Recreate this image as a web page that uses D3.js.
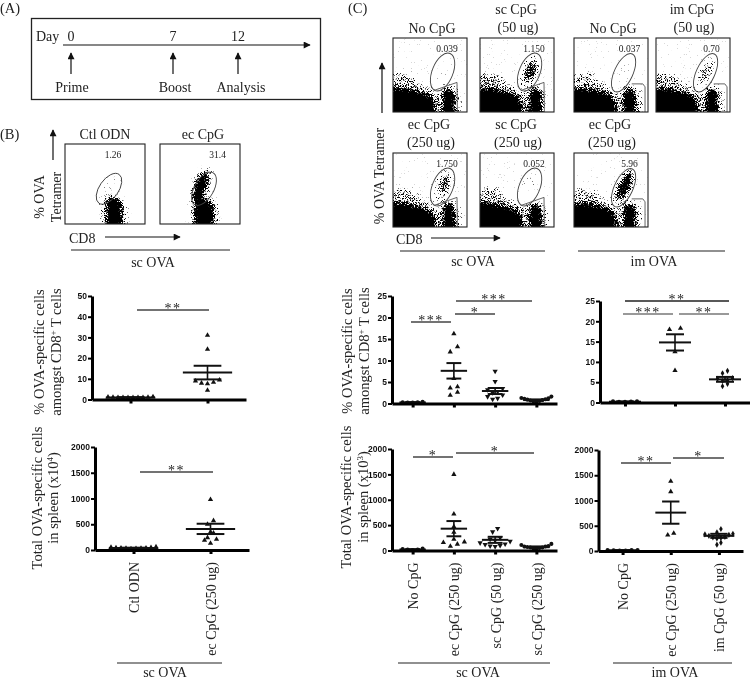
<!DOCTYPE html>
<html lang="en">
<head>
<meta charset="UTF-8">
<title>OVA-specific CD8 T cells after CpG priming</title>
<style>
  body { margin: 0; background: #fff; }
  svg { display: block; filter: blur(0.3px); }
  text { font-family: "Liberation Serif", serif; fill: #222; }
  .tick text { font-family: "Liberation Sans", sans-serif; font-weight: bold; font-size: 8.5px; fill: #111; }
  .cat .tick text { font-family: "Liberation Serif", serif; font-weight: normal; font-size: 14px; fill: #222; }
</style>
</head>
<body>
<script src="https://d3js.org/d3.v7.min.js"></script>
<script>
// categories
const catsB = ["Ctl ODN", "ec CpG (250 ug)"];
const catsSc = ["No CpG", "ec CpG (250 ug)", "sc CpG (50 ug)", "sc CpG (250 ug)"];
const catsIm = ["No CpG", "ec CpG (250 ug)", "im CpG (50 ug)"];

// (B) % of CD8 T cells
const bPctCtl = [0.9, 1.0, 1.1, 1.0, 1.0, 0.9, 1.0, 1.2, 1.1, 1.3];
const bPctEc = [4.5, 7.6, 7.9, 8.3, 8.9, 9.4, 24.3, 31];
const bPctMean = [1.0, 13];
const bPctSem = [0.1, 3.3];

// (B) total cells
const bTotCtl = [25, 30, 35, 35, 40, 40, 45, 50, 55, 60];
const bTotEc = [130, 190, 210, 240, 330, 350, 500, 570, 980];
const bTotMean = [40, 410];
const bTotSem = [5, 100];

// (C) sc OVA, % of CD8 T cells
const cPctNo = [0.2, 0.2, 0.3, 0.3, 0.4];
const cPctEc = [1.9, 2.6, 3.6, 3.9, 5.8, 12, 13.2, 16.2];
const cPctSc50 = [1.0, 1.2, 1.6, 2.0, 2.5, 2.8, 3.2, 3.5, 5.1, 7.5];
const cPctSc250 = [0.4, 0.5, 0.6, 0.7, 0.8, 0.9, 1.0, 1.1, 1.2, 1.3, 1.6];
const cPctMean = [0.25, 7.6, 2.9, 0.8];
const cPctSem = [0.05, 1.8, 0.7, 0.15];

// (C) sc OVA, total cells
const cTotNo = [10, 20, 20, 30, 40];
const cTotEc = [85, 125, 157, 170, 220, 360, 470, 720, 1500];
const cTotSc50 = [80, 90, 100, 120, 130, 150, 180, 200, 220, 250, 367, 433];
const cTotSc250 = [30, 40, 50, 60, 60, 70, 80, 80, 90, 110, 130];
const cTotMean = [20, 430, 210, 65];
const cTotSem = [5, 150, 60, 15];

// (C) im OVA, % of CD8 T cells
const iPctNo = [0.2, 0.2, 0.25, 0.3, 0.3];
const iPctEc = [7.9, 12.5, 18, 18.3];
const iPctIm50 = [4, 4.6, 5.3, 5.5, 5.8, 6, 7.2, 7.8];
const iPctMean = [0.2, 14.8, 5.7];
const iPctSem = [0.03, 2.0, 0.6];

// (C) im OVA, total cells
const iTotNo = [10, 10, 15, 20, 20, 20];
const iTotEc = [317, 350, 1175, 1380];
const iTotIm50 = [125, 165, 250, 260, 270, 280, 300, 320, 330, 340, 370, 435];
const iTotMean = [15, 760, 300];
const iTotSem = [3, 220, 40];

// flow plots: density outlines in % of the plot (x right, y up)
const scBulk = [[-15, -15], [-15, 30], [12, 32], [25, 29], [38, 27], [50, 22], [56, 12], [58, -15]];
const scHalo = [[-15, -15], [-15, 48], [10, 52], [22, 52], [32, 42], [45, 33], [60, 25], [64, -15]];
const scCol = [[67, -15], [67, 25], [72, 32], [79, 31], [83, 24], [84, -15]];
const scColHalo = [[58, -15], [60, 20], [66, 34], [80, 36], [90, 28], [93, -15]];
const bCol = [[52, -15], [52, 25], [58, 33], [66, 32], [71, 22], [71, -15]];
const bColHalo = [[42, -15], [44, 24], [52, 38], [68, 38], [77, 24], [78, -15]];
const bColEc = [[43, -15], [43, 25], [50, 32], [60, 31], [66, 22], [67, -15]];
const bColHaloEc = [[36, -15], [38, 26], [50, 38], [66, 34], [74, 20], [75, -15]];
const scBracket = [[55, 29], [86.5, 40], [87, 0]];
const imBracket = [[78, 38], [93, 38], [96, 34], [96, 0]];

const flowB = [
  { title: ["Ctl ODN"], value: "1.26", shapes: [[bCol, 1], [bColHalo, 0.32]], bg: 0,
    blobs: [[55, 44, 10, 20, 35, 0.1]], gate: [55, 44, 12, 22, 35], bracket: null },
  { title: ["ec CpG"], value: "31.4", shapes: [[bColEc, 1], [bColHaloEc, 0.34]], bg: 0,
    blobs: [[52, 48, 11, 23, 25, 0.4], [50, 46, 7, 19, 20, 1]], gate: [55, 44, 12, 23, 30], bracket: null }
];
const flowSc = [
  { title: ["No CpG"], value: "0.039", blobs: [[67, 52, 10, 20, 22, 0.04]] },
  { title: ["sc CpG", "(50 ug)"], value: "1.150", blobs: [[67, 54, 12, 25, 22, 0.26], [69, 55, 6, 14, 22, 0.75]] },
  { title: ["ec CpG", "(250 ug)"], value: "1.750", blobs: [[67, 54, 12, 25, 22, 0.24], [69, 58, 5, 10, 22, 0.75]] },
  { title: ["sc CpG", "(250 ug)"], value: "0.052", blobs: [[67, 56, 9, 16, 22, 0.1]] }
];
const flowIm = [
  { title: ["No CpG"], value: "0.037", blobs: [[67, 53, 10, 22, 25, 0.04]] },
  { title: ["im CpG", "(50 ug)"], value: "0.70", blobs: [[67, 53, 10, 22, 25, 0.2], [68, 54, 4, 11, 25, 0.6]] },
  { title: ["ec CpG", "(250 ug)"], value: "5.96", blobs: [[67, 53, 11, 25, 25, 0.38], [69, 56, 6, 19, 25, 1]] }
];

const svg = d3.select("body").append("svg").attr("width", 750).attr("height", 680);
const defs = svg.append("defs");

defs.append("marker").attr("id", "head")
  .attr("viewBox", "0 0 10 10").attr("refX", 9).attr("refY", 5)
  .attr("markerUnits", "userSpaceOnUse").attr("markerWidth", 8).attr("markerHeight", 7)
  .attr("orient", "auto")
  .append("path").attr("d", "M0,0 L10,5 L0,10 Z").attr("fill", "#111");

// speckle: turns the grey density shapes into dots
const speckle = defs.append("filter").attr("id", "speckle")
  .attr("filterUnits", "userSpaceOnUse")
  .attr("x", 0).attr("y", 0).attr("width", 750).attr("height", 680)
  .attr("color-interpolation-filters", "sRGB");
speckle.append("feGaussianBlur").attr("in", "SourceAlpha").attr("stdDeviation", 2.4).attr("result", "b");
speckle.append("feTurbulence").attr("type", "fractalNoise").attr("baseFrequency", 1.3)
  .attr("numOctaves", 1).attr("seed", 7).attr("result", "n");
speckle.append("feColorMatrix").attr("in", "n")
  .attr("values", "0 0 0 0 0  0 0 0 0 0  0 0 0 0 0  0 0 0 2.6 -0.9").attr("result", "na");
speckle.append("feComposite").attr("in", "b").attr("in2", "na").attr("operator", "arithmetic")
  .attr("k1", 0).attr("k2", 1.3).attr("k3", 1).attr("k4", -1).attr("result", "c");
speckle.append("feComponentTransfer").attr("in", "c")
  .append("feFuncA").attr("type", "linear").attr("slope", 4).attr("intercept", 0);

function txt(x, y, s, size, anchor, g) {
  return (g || svg).append("text").attr("x", x).attr("y", y)
    .attr("font-size", size || 14).attr("text-anchor", anchor || "middle").text(s);
}
function vtxt(x, y, s, size) {
  return svg.append("text").attr("transform", `translate(${x},${y}) rotate(-90)`)
    .attr("font-size", size || 14.5).attr("text-anchor", "middle").text(s);
}
function rule(x1, x2, y, w, c) {
  svg.append("line").attr("x1", x1).attr("x2", x2).attr("y1", y).attr("y2", y)
    .attr("stroke", c || "#222").attr("stroke-width", w || 1.2);
}
function arrow(x1, y1, x2, y2) {
  svg.append("line").attr("x1", x1).attr("y1", y1).attr("x2", x2).attr("y2", y2)
    .attr("stroke", "#111").attr("stroke-width", 1.2).attr("marker-end", "url(#head)");
}

// (A) schedule
txt(0, 13, "(A)", 14.5, "start");
svg.append("rect").attr("x", 31.5).attr("y", 18.5).attr("width", 289).attr("height", 81)
  .attr("fill", "none").attr("stroke", "#222").attr("stroke-width", 1.3);
txt(36, 41, "Day", 14, "start");
arrow(63, 45, 310, 45);
const days = ["0", "7", "12"];
const dayX = [71, 173, 238];
const steps = ["Prime", "Boost", "Analysis"];
const stepX = [72, 175, 241];
days.forEach((d, i) => {
  txt(dayX[i], 41, d, 14);
  arrow(dayX[i], 74, dayX[i], 53);
  txt(stepX[i], 92, steps[i], 14);
});

// flow plots
function flowPlot(p, px, py, size, sc) {
  const x = d3.scaleLinear([0, 100], [px, px + size]);
  const y = d3.scaleLinear([0, 100], [py + size, py]);
  const id = "clip" + px + "_" + py;
  defs.append("clipPath").attr("id", id).append("rect")
    .attr("x", px).attr("y", py).attr("width", size).attr("height", size);
  const dots = svg.append("g").attr("clip-path", `url(#${id})`).append("g").attr("filter", "url(#speckle)");
  const blob = d3.line().x(d => x(d[0])).y(d => y(d[1])).curve(d3.curveLinearClosed);
  dots.append("rect").attr("x", px).attr("y", py).attr("width", size).attr("height", size)
    .attr("fill", "#000").attr("opacity", p.bg === undefined ? 0.03 : p.bg);
  p.shapes.forEach(s => dots.append("path").attr("d", blob(s[0])).attr("fill", "#000").attr("opacity", s[1]));
  const k = size / 100;
  p.blobs.forEach(b => dots.append("ellipse")
    .attr("transform", `translate(${x(b[0])},${y(b[1])}) rotate(${b[4]})`)
    .attr("rx", b[2] * k).attr("ry", b[3] * k).attr("fill", "#000").attr("opacity", b[5]));
  svg.append("ellipse")
    .attr("transform", `translate(${x(p.gate[0])},${y(p.gate[1])}) rotate(${p.gate[4]})`)
    .attr("rx", p.gate[2] * k).attr("ry", p.gate[3] * k)
    .attr("fill", "none").attr("stroke", "#444").attr("stroke-width", 0.9);
  if (p.bracket) {
    svg.append("path").attr("d", d3.line().x(d => x(d[0])).y(d => y(d[1]))(p.bracket))
      .attr("fill", "none").attr("stroke", "#555").attr("stroke-width", 0.9);
  }
  svg.append("rect").attr("x", px).attr("y", py).attr("width", size).attr("height", size)
    .attr("fill", "none").attr("stroke", "#222").attr("stroke-width", 1.1);
  txt(x(p.valueX), py + (sc ? 13.5 : 14), p.value, 9.5);
}

// (B) flow
txt(0, 139, "(B)", 14.5, "start");
const bX = [65, 160];
const bTitleX = [105, 203];
flowB.forEach((p, i) => {
  p.valueX = i ? 72 : 60;
  flowPlot(p, bX[i], 144, 80, false);
  txt(bTitleX[i], 139, p.title[0], 14);
});
arrow(53, 160, 53, 130);
vtxt(44, 197, "% OVA", 14);
vtxt(61, 197, "Tetramer", 14);
txt(69, 243, "CD8", 14, "start");
arrow(105, 237, 180, 237);
rule(71, 230, 250);
txt(153, 267, "sc OVA", 14);

// (C) flow
txt(348, 13, "(C)", 14.5, "start");
const lightShapes = [[scBulk, 1], [scHalo, 0.42], [scCol, 1], [scColHalo, 0.3]];
const commonSc = { shapes: lightShapes, gate: [67, 54, 14, 27, 22], bracket: scBracket, valueX: 73 };
const commonIm = { shapes: lightShapes, gate: [67, 53, 12.5, 28, 25], bracket: imBracket, valueX: 75 };
const scPos = [[393, 38], [480, 38], [393, 153], [480, 153]];
const imPos = [[574, 38], [656, 38], [574, 153]];
function titled(p, pos) {
  flowPlot(p, pos[0], pos[1], 74, true);
  const cx = pos[0] + 37;
  if (p.title.length === 1) txt(cx + 2, pos[1] - 5, p.title[0], 14);
  else {
    txt(cx - 1, pos[1] - 24, p.title[0], 14);
    txt(cx + 1, pos[1] - 6, p.title[1], 14);
  }
}
flowSc.forEach((p, i) => titled(Object.assign({}, commonSc, p), scPos[i]));
flowIm.forEach((p, i) => titled(Object.assign({}, commonIm, p), imPos[i]));
arrow(382, 113, 382, 63);
vtxt(384, 176, "% OVA Tetramer", 14);
txt(396, 244, "CD8", 14, "start");
arrow(431, 238, 500, 238);
rule(400, 545, 251);
txt(473, 266, "sc OVA", 14);
rule(578, 725, 251);
txt(654, 266, "im OVA", 14);

// scatter panels
const symTri = d3.symbol().type(d3.symbolTriangle).size(12)();
const symDia = d3.symbol().type(d3.symbolDiamond).size(11)();
const symCir = d3.symbol().type(d3.symbolCircle).size(13)();
const shapes = {
  up: { d: symTri, rot: 0 },
  down: { d: symTri, rot: 180 },
  dia: { d: symDia, rot: 0 },
  dot: { d: symCir, rot: 0 }
};

// values close in height share a row and spread sideways around the column
function swarm(values, y, binPx, step) {
  const sorted = values.slice().sort(d3.ascending);
  const out = [];
  let row = [];
  const flush = () => {
    const n = row.length;
    row.forEach((v, i) => {
      let off;
      if (n % 2) off = i === 0 ? 0 : (i % 2 ? -1 : 1) * Math.ceil(i / 2) * step;
      else off = (i % 2 ? 1 : -1) * (Math.floor(i / 2) + 0.5) * step;
      out.push([off, v]);
    });
    row = [];
  };
  sorted.forEach(v => {
    if (row.length && y(row[0]) - y(v) > binPx) flush();
    row.push(v);
  });
  flush();
  return out;
}

function scatter(o) {
  const x = d3.scalePoint().domain(o.cats).range([o.x0, o.x1]).padding(0.5);
  const y = d3.scaleLinear().domain(o.domain).range([o.yBottom, o.yTop]);
  const g = svg.append("g");
  const st = x.step();
  o.series.forEach((vals, i) => {
    const cx = x(o.cats[i]);
    const sh = shapes[o.marks[i]];
    g.selectAll(null).data(swarm(vals, y, o.bin, o.spread[i])).join("path")
      .attr("d", sh.d)
      .attr("transform", d => `translate(${cx + d[0]},${y(d[1])}) rotate(${sh.rot})`)
      .attr("fill", "#111");
    const m = o.means[i], s = o.sems[i];
    g.append("line").attr("x1", cx - st * 0.32).attr("x2", cx + st * 0.32)
      .attr("y1", y(m)).attr("y2", y(m)).attr("stroke", "#111").attr("stroke-width", 2);
    [m - s, m + s].forEach(v => g.append("line")
      .attr("x1", cx - st * 0.18).attr("x2", cx + st * 0.18)
      .attr("y1", y(v)).attr("y2", y(v)).attr("stroke", "#111").attr("stroke-width", 2));
    g.append("line").attr("x1", cx).attr("x2", cx).attr("y1", y(m - s)).attr("y2", y(m + s))
      .attr("stroke", "#111").attr("stroke-width", 1.6);
  });
  const ya = svg.append("g").attr("transform", `translate(${o.x0},0)`)
    .call(d3.axisLeft(y).tickValues(o.ticks).tickSize(4).tickSizeOuter(0).tickPadding(1).tickFormat(d3.format("d")));
  ya.select(".domain").attr("stroke", "#000").attr("stroke-width", 3);
  ya.selectAll("line").attr("stroke", "#000").attr("stroke-width", 2);
  const xa = svg.append("g").attr("class", o.labels ? "cat" : "").attr("transform", `translate(0,${o.yBottom})`)
    .call(d3.axisBottom(x).tickSize(4).tickSizeOuter(0).tickFormat(o.labels ? null : ""));
  xa.select(".domain").attr("stroke", "#000").attr("stroke-width", 3);
  xa.selectAll("line").attr("stroke", "#000").attr("stroke-width", 3);
  if (o.labels) {
    xa.selectAll(".tick text").attr("transform", "rotate(-90)")
      .attr("x", -12).attr("y", 0).attr("dy", "0.35em").attr("text-anchor", "end");
  }
}

function sig(x1, x2, yy, stars, c) {
  rule(x1, x2, yy, 1.3, c || "#444");
  txt((x1 + x2) / 2, yy + 2.5, stars, 14).attr("fill", "#555").attr("letter-spacing", 1.5);
}

scatter({ cats: catsB, series: [bPctCtl, bPctEc], means: bPctMean, sems: bPctSem, marks: ["up", "up"],
  domain: [0, 50], ticks: [0, 10, 20, 30, 40, 50], x0: 92, x1: 246, yTop: 296, yBottom: 399.5,
  bin: 5, spread: [5, 6], labels: false });
scatter({ cats: catsB, series: [bTotCtl, bTotEc], means: bTotMean, sems: bTotSem, marks: ["up", "up"],
  domain: [0, 2000], ticks: [0, 500, 1000, 1500, 2000], x0: 95, x1: 249, yTop: 447, yBottom: 550,
  bin: 5, spread: [5, 6], labels: true });
scatter({ cats: catsSc, series: [cPctNo, cPctEc, cPctSc50, cPctSc250], means: cPctMean, sems: cPctSem,
  marks: ["dot", "up", "down", "dot"], domain: [0, 25], ticks: [0, 5, 10, 15, 20, 25],
  x0: 392, x1: 557, yTop: 296, yBottom: 403.5, bin: 5.5, spread: [5, 7.3, 5, 3], labels: false });
scatter({ cats: catsSc, series: [cTotNo, cTotEc, cTotSc50, cTotSc250], means: cTotMean, sems: cTotSem,
  marks: ["dot", "up", "down", "dot"], domain: [0, 2000], ticks: [0, 500, 1000, 1500, 2000],
  x0: 392, x1: 557, yTop: 449, yBottom: 550.5, bin: 5.5, spread: [5, 7, 5, 3], labels: true });
scatter({ cats: catsIm, series: [iPctNo, iPctEc, iPctIm50], means: iPctMean, sems: iPctSem,
  marks: ["dot", "up", "dia"], domain: [0, 25], ticks: [0, 5, 10, 15, 20, 25],
  x0: 600, x1: 750, yTop: 301, yBottom: 402.5, bin: 5, spread: [6, 11, 5], labels: false });
scatter({ cats: catsIm, series: [iTotNo, iTotEc, iTotIm50], means: iTotMean, sems: iTotSem,
  marks: ["dot", "up", "dia"], domain: [0, 2000], ticks: [0, 500, 1000, 1500, 2000],
  x0: 598.5, x1: 743, yTop: 450, yBottom: 551, bin: 6, spread: [6, 6, 4], labels: true });

// significance bars
sig(137, 209, 310, "**");
sig(140, 213, 472, "**");
sig(411, 451, 322, "***");
sig(455, 495, 314, "*");
sig(456, 532, 301, "***");
sig(413, 453, 457, "*");
sig(456, 534, 453, "*");
sig(625, 729, 301, "**", "#222");
sig(623, 673, 314, "***", "#777");
sig(679, 729, 314, "**", "#777");
sig(621, 671, 463, "**");
sig(673, 724, 458, "*");

// y titles
function sup(t, before, mark, after) {
  t.text(null);
  t.append("tspan").text(before);
  t.append("tspan").attr("font-size", 9).attr("dy", -5).text(mark);
  t.append("tspan").attr("dy", 5).text(after);
}
vtxt(44, 352, "% OVA-specific cells");
sup(vtxt(61, 352, ""), "amongst CD8", "+", " T cells");
vtxt(42, 498, "Total OVA-specific cells");
sup(vtxt(58, 498, ""), "in spleen (x10", "4", ")");
vtxt(352, 351, "% OVA-specific cells");
sup(vtxt(369, 351, ""), "amongst CD8", "+", " T cells");
vtxt(351, 497, "Total OVA-specific cells");
sup(vtxt(368, 497, ""), "in spleen (x10", "3", ")");

// group labels under the bottom row
rule(117, 222, 663);
txt(165, 677, "sc OVA", 14);
rule(398, 550, 663);
txt(478, 677, "sc OVA", 14);
rule(613, 732, 663);
txt(675, 677, "im OVA", 14);
</script>
</body>
</html>
